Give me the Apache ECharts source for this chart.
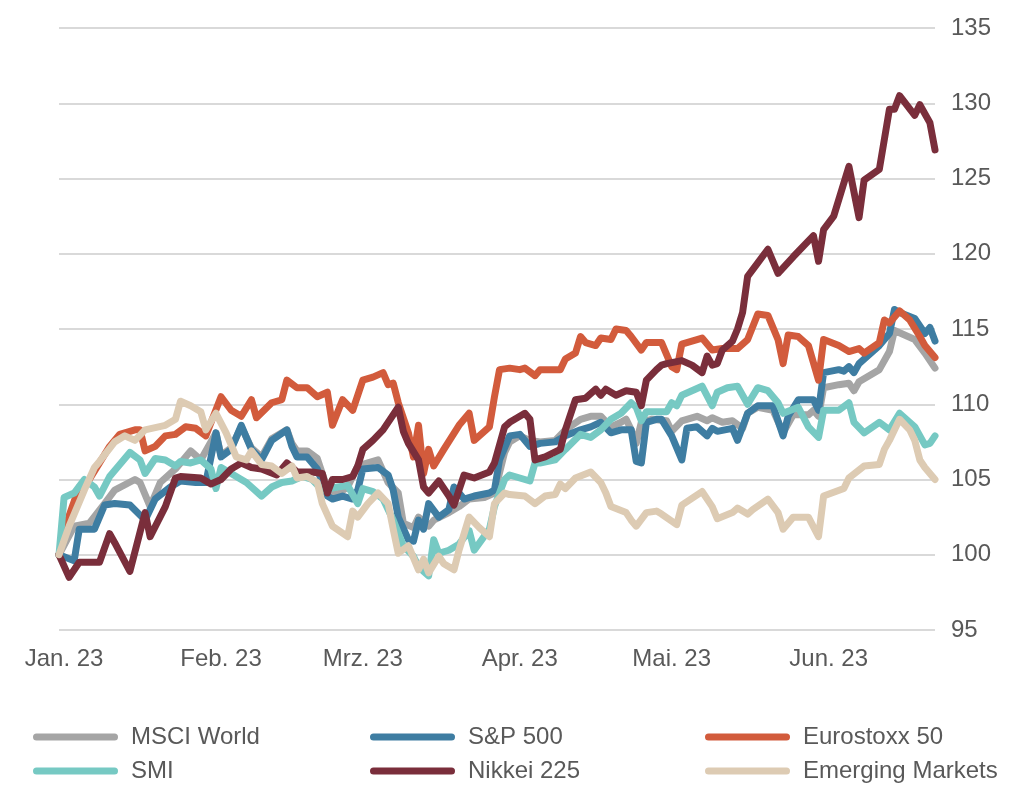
<!DOCTYPE html>
<html>
<head>
<meta charset="utf-8">
<script src="https://cdn.jsdelivr.net/npm/echarts/dist/echarts.min.js"></script>
<style>
html,body{margin:0;padding:0;background:#fff;}
#chart{width:1024px;height:811px;}
</style>
</head>
<body>
<div id="chart"></div>
<script>
// x = days since 31 Dec 2022 (0 = base, index 100)
const seriesNames = ['MSCI World','S&P 500','Eurostoxx 50','SMI','Nikkei 225','Emerging Markets'];
const monthStartDays = [1,32,60,91,121,152];
const monthLabels = ['Jan. 23','Feb. 23','Mrz. 23','Apr. 23','Mai. 23','Jun. 23'];
const yTicks = {min:95, max:135, step:5};

const msciWorld = [[0,100],[3,101.9],[6,102.1],[9,103.4],[11,104.3],[15,105.0],[16,104.8],[18,103.2],[20,104.8],[23,105.7],[26,106.9],[28,106.3],[31,108.1],[32,106.6],[34,107.1],[36,108.5],[38,107.1],[40,106.5],[42,107.7],[45,108.3],[46,107.4],[47,106.9],[49,106.9],[51,106.4],[53,104.4],[55,104.0],[57,104.5],[59,105.9],[61,106.1],[63,106.3],[65,104.8],[67,104.1],[68,102.1],[70,101.8],[71,102.5],[73,101.9],[74,102.3],[77,102.8],[79,103.2],[81,103.7],[84,103.8],[86,104.1],[88,106.8],[89,107.5],[91,107.9],[93,107.6],[95,107.5],[98,107.6],[100,108.3],[103,109.0],[105,109.2],[107,109.2],[109,108.5],[111,108.8],[112,109.0],[113,108.3],[114,107.4],[115,108.8],[117,109.0],[120,108.9],[121,108.2],[123,108.9],[126,109.2],[128,108.9],[129,109.1],[131,108.8],[133,108.9],[135,108.4],[136,109.4],[138,109.8],[141,109.6],[143,108.1],[145,109.3],[148,109.3],[149,109.6],[150,109.2],[151,111.1],[154,111.3],[156,111.4],[157,110.9],[158,111.5],[162,112.3],[164,113.5],[165,114.9],[169,114.3],[171,113.4],[172,112.9],[173,112.4]];

const sp500 = [[0,100],[3,99.6],[4,101.7],[7,101.7],[9,103.3],[11,103.4],[14,103.3],[17,102.3],[19,103.7],[22,104.5],[24,104.9],[27,104.8],[29,104.8],[31,108.1],[32,106.5],[34,107.0],[36,108.6],[38,107.0],[40,106.3],[42,107.6],[45,108.3],[46,107.2],[47,106.5],[49,106.5],[51,105.7],[53,103.9],[54,103.7],[56,103.9],[58,103.7],[59,104.3],[60,105.7],[63,105.8],[65,105.3],[66,104.3],[67,102.5],[69,101.0],[70,100.9],[71,102.3],[72,101.7],[73,103.4],[75,102.5],[77,103.0],[78,104.5],[80,103.7],[82,103.9],[85,104.1],[86,104.3],[87,106.3],[89,107.9],[91,108.0],[93,107.2],[95,107.4],[98,107.5],[100,107.9],[103,108.3],[105,108.5],[107,108.8],[109,108.1],[111,108.3],[113,108.3],[114,106.2],[115,106.1],[116,108.8],[118,109.0],[119,109.0],[121,107.9],[123,106.3],[124,108.4],[126,108.5],[128,107.9],[129,108.4],[130,108.2],[133,108.4],[134,107.6],[136,109.4],[138,109.9],[141,109.9],[143,107.9],[144,109.2],[146,110.3],[149,110.3],[150,109.6],[151,112.1],[154,112.3],[155,112.2],[156,112.5],[157,112.1],[158,112.7],[162,113.9],[164,114.7],[165,116.3],[166,116.1],[169,115.7],[171,114.7],[172,115.1],[173,114.2]];

const eurostoxx50 = [[0,100],[2,102.6],[4,104.5],[6,105.0],[8,106.1],[10,107.2],[12,108.0],[15,108.3],[16,108.3],[17,106.9],[19,107.2],[21,107.9],[23,108.0],[25,108.5],[27,108.4],[29,107.9],[32,110.5],[34,109.6],[36,109.2],[38,110.3],[39,109.1],[42,110.1],[44,110.3],[45,111.6],[47,111.1],[49,111.1],[51,110.5],[53,110.8],[54,108.6],[56,110.3],[58,109.6],[60,111.6],[62,111.8],[64,112.1],[65,111.3],[66,111.4],[67,110.1],[69,108.1],[70,106.5],[71,108.6],[72,105.4],[73,107.0],[74,105.9],[76,107.0],[79,108.6],[81,109.4],[82,107.6],[84,108.2],[85,108.5],[86,110.5],[87,112.3],[89,112.4],[91,112.3],[92,112.4],[94,111.9],[95,112.3],[99,112.3],[100,113.0],[102,113.4],[103,114.5],[104,114.1],[106,113.9],[107,114.4],[109,114.3],[110,115.0],[112,114.9],[113,114.5],[115,113.6],[116,114.1],[119,114.1],[121,112.5],[122,112.3],[123,114.0],[127,114.4],[129,113.6],[131,113.7],[134,113.7],[136,114.3],[138,116.0],[140,115.9],[142,114.3],[143,112.7],[144,114.6],[146,114.5],[148,113.9],[150,111.6],[151,114.3],[154,113.9],[156,113.5],[158,113.7],[159,113.4],[162,114.1],[163,115.6],[164,115.4],[166,116.2],[168,115.6],[170,114.5],[171,113.9],[173,113.1]];

const smi = [[0,100],[1,103.8],[3,104.1],[5,105.0],[7,104.5],[8,103.9],[10,105.2],[14,106.8],[16,106.3],[17,105.4],[19,106.4],[21,106.3],[23,105.9],[24,106.2],[26,106.1],[28,106.3],[30,105.7],[31,104.4],[32,105.8],[34,105.4],[37,104.8],[40,103.9],[42,104.5],[44,104.8],[46,104.9],[48,105.2],[50,105.0],[52,104.3],[55,104.5],[57,104.6],[59,103.4],[60,104.4],[62,104.2],[64,103.7],[66,102.3],[68,100.6],[70,99.9],[71,99.2],[73,98.6],[74,101.0],[75,100.1],[77,100.3],[79,100.7],[81,101.6],[82,100.3],[85,101.7],[86,103.2],[88,105.0],[89,105.3],[91,105.1],[93,104.9],[94,106.1],[95,106.1],[98,106.3],[100,107.0],[103,108.0],[105,107.8],[107,108.3],[109,109.0],[111,109.4],[113,110.1],[114,109.8],[115,108.9],[116,109.5],[120,109.5],[121,110.1],[122,109.9],[123,110.6],[127,111.2],[129,109.9],[130,110.8],[132,111.1],[134,111.2],[136,110.0],[138,111.1],[140,110.9],[142,110.1],[143,109.4],[146,109.8],[148,108.5],[150,107.8],[151,109.6],[154,109.6],[156,110.1],[157,108.8],[159,108.1],[162,108.8],[164,108.3],[166,109.4],[169,108.5],[171,107.3],[172,107.4],[173,107.9]];

const nikkei225 = [[0,100],[2,98.5],[4,99.5],[8,99.5],[10,101.4],[11,100.8],[14,98.9],[17,102.8],[18,101.2],[21,103.2],[23,105.1],[24,105.2],[28,105.1],[30,104.7],[32,105.0],[34,105.7],[36,106.1],[38,105.8],[40,105.7],[43,105.3],[45,106.1],[47,105.5],[50,105.5],[52,105.4],[53,104.1],[54,105.0],[56,105.0],[58,105.2],[59,105.9],[60,107.0],[62,107.6],[64,108.3],[67,109.8],[68,108.2],[69,107.4],[71,106.3],[72,104.5],[73,104.1],[75,104.9],[77,103.9],[78,103.3],[80,105.3],[82,105.1],[85,105.5],[86,106.1],[88,108.5],[89,108.8],[90,109.0],[92,109.4],[93,109.0],[94,106.3],[96,106.5],[99,107.0],[100,108.3],[102,110.3],[104,110.4],[106,111.0],[107,110.6],[108,111.0],[110,110.6],[112,110.9],[114,110.8],[115,109.9],[116,111.6],[118,112.3],[119,112.6],[120,112.7],[123,112.9],[125,112.6],[127,112.1],[128,113.2],[129,112.6],[130,112.7],[131,113.6],[133,114.2],[134,115.0],[135,116.1],[136,118.5],[138,119.4],[140,120.3],[142,118.7],[145,119.8],[149,121.2],[150,119.5],[151,121.6],[153,122.5],[156,125.8],[157,124.1],[158,122.4],[159,124.9],[162,125.6],[164,129.6],[165,129.6],[166,130.5],[169,129.2],[170,129.9],[172,128.7],[173,126.9]];

const emergingMarkets = [[0,100],[2,101.9],[5,104.3],[7,105.8],[8,106.2],[11,107.5],[13,107.9],[15,107.6],[17,108.3],[21,108.6],[23,109.0],[24,110.2],[26,109.9],[28,109.5],[29,108.3],[31,109.4],[33,108.1],[35,106.5],[37,106.3],[38,106.9],[40,106.0],[42,105.9],[44,105.4],[46,105.9],[47,105.1],[49,105.2],[51,104.8],[52,103.4],[54,101.9],[57,101.2],[58,102.9],[59,102.5],[61,103.4],[63,104.1],[65,103.4],[66,101.7],[67,100.1],[69,100.6],[71,99.0],[72,99.7],[73,98.8],[75,99.9],[76,99.4],[78,99.0],[79,100.3],[81,102.5],[83,101.8],[85,101.2],[86,103.4],[88,104.1],[89,104.0],[92,103.9],[94,103.4],[96,103.9],[98,104.0],[99,104.7],[100,104.4],[102,105.1],[105,105.5],[107,104.8],[108,104.1],[109,103.2],[112,102.8],[113,102.3],[114,101.9],[116,102.8],[118,102.9],[119,102.7],[122,102.0],[123,103.3],[127,104.2],[129,103.2],[130,102.4],[133,102.8],[134,103.1],[136,102.7],[137,103.0],[140,103.7],[142,102.8],[143,101.7],[145,102.5],[148,102.5],[150,101.2],[151,103.9],[155,104.4],[156,105.1],[159,105.9],[162,106.0],[163,107.0],[164,107.6],[166,109.0],[168,108.3],[169,107.6],[170,106.3],[171,105.8],[173,105.0]];

const seriesData = [msciWorld, sp500, eurostoxx50, smi, nikkei225, emergingMarkets];
const colors = ['#A5A5A5','#3E7DA2','#D25B3C','#76C9C3','#7A2E3B','#DDCBB3'];

const FONT = '"Liberation Sans", Arial, sans-serif';
const TXT = '#595959';
const capsule = 'path://M3.5,0 L81.5,0 A3.5,3.5 0 0 1 81.5,7 L3.5,7 A3.5,3.5 0 0 1 3.5,0 Z';

const legendPos = [[33,725],[370,725],[705,725],[33,759],[370,759],[705,759]];
const legends = seriesNames.map((n,i)=>({
  left: legendPos[i][0], top: legendPos[i][1], padding: 0,
  data: [n], icon: capsule, itemWidth: 85, itemHeight: 7,
  selectedMode: false,
  textStyle: {fontFamily: FONT, fontSize: 24, color: TXT, padding: [0,0,0,8]}
}));

const chart = echarts.init(document.getElementById('chart'), null, {renderer:'canvas'});
chart.setOption({
  animation: false,
  backgroundColor: '#fff',
  grid: {left: 59, right: 89, top: 28, bottom: 181, containLabel: false},
  legend: legends,
  xAxis: {
    type: 'value', min: 0, max: 173,
    axisLine: {show: false}, axisTick: {show: false}, splitLine: {show: false},
    axisLabel: {
      customValues: monthStartDays,
      formatter: v => monthLabels[monthStartDays.indexOf(Math.round(v))] || '',
      fontFamily: FONT, fontSize: 24, color: TXT, margin: 17, hideOverlap: false
    }
  },
  yAxis: {
    type: 'value', position: 'right', min: yTicks.min, max: yTicks.max, interval: yTicks.step,
    axisLine: {show: false}, axisTick: {show: false},
    splitLine: {show: true, lineStyle: {color: '#D9D9D9', width: 2}},
    axisLabel: {fontFamily: FONT, fontSize: 24, color: TXT, margin: 16}
  },
  series: seriesNames.map((n,i)=>({
    name: n, type: 'line', data: seriesData[i],
    showSymbol: false, symbol: 'none', color: colors[i],
    lineStyle: {width: 7, color: colors[i], cap: 'round', join: 'round'},
    itemStyle: {color: colors[i]}
  }))
});
</script>
</body>
</html>
